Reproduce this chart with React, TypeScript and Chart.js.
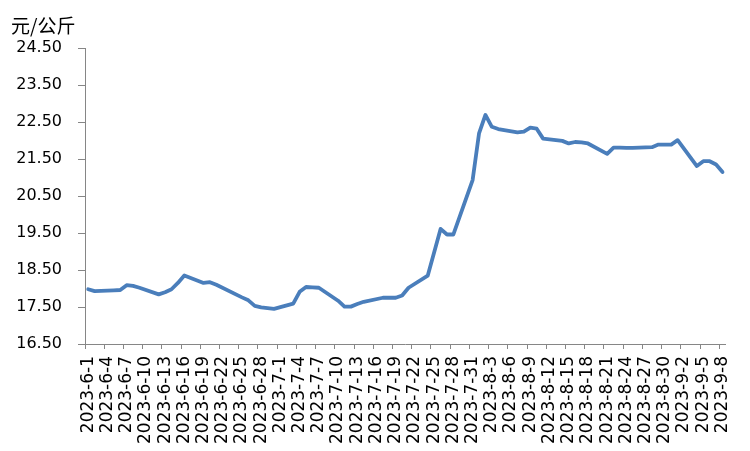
import React, { useEffect, useRef } from "react";
import { Chart, registerables } from "chart.js";

Chart.register(...registerables);

// Categories: every calendar day from 2023-6-1 to 2023-9-8
const monthDays: [number, number, number][] = [
  [6, 1, 30],
  [7, 1, 31],
  [8, 1, 31],
  [9, 1, 8],
];
const dates: string[] = [];
for (const [m, from, to] of monthDays) {
  for (let d = from; d <= to; d++) dates.push(`2023-${m}-${d}`);
}

// Price (元/公斤); null = no quote (weekends / holidays), spanned by the line
const junePrices: (number | null)[] = [
  17.98, 17.93, null, null, 17.95, 17.96, 18.09, 18.07, 18.02, null,
  null, 17.84, 17.90, 17.98, 18.15, 18.35, null, null, 18.15, 18.17,
  18.10, null, null, null, 17.76, 17.68, 17.53, 17.49, 17.47, 17.45,
];
const julyPrices: (number | null)[] = [
  null, null, 17.59, 17.91, 18.04, 18.03, 18.02, null, null, 17.67,
  17.51, 17.51, 17.58, 17.64, null, null, 17.75, 17.75, 17.75, 17.81,
  18.02, null, null, 18.35, 18.98, 19.61, 19.46, 19.46, null, null,
  20.93,
];
const augustPrices: (number | null)[] = [
  22.19, 22.69, 22.37, 22.31, null, null, 22.22, 22.24, 22.35, 22.32,
  22.05, null, null, 21.99, 21.92, 21.96, 21.95, 21.92, null, null,
  21.64, 21.81, 21.81, 21.80, 21.80, null, null, 21.82, 21.89, 21.89,
  21.89,
];
const septemberPrices: (number | null)[] = [
  22.01, null, null, 21.31, 21.44, 21.44, 21.35, 21.15,
];
const prices = [...junePrices, ...julyPrices, ...augustPrices, ...septemberPrices];

const yMin = 16.5;
const yMax = 24.5;
const yStep = 1;
const unitLabel = "元/公斤";

const FONT = "'DejaVu Sans', sans-serif";
const AXIS = "#868686";

export default function App() {
  const ref = useRef<HTMLCanvasElement | null>(null);

  useEffect(() => {
    if (!ref.current) return;
    const unitPlugin = {
      id: "unitLabel",
      afterDraw(chart: any) {
        const ctx = chart.ctx;
        ctx.save();
        ctx.fillStyle = "#000";
        ctx.font = "19px 'Noto Sans CJK SC', sans-serif";
        ctx.textBaseline = "alphabetic";
        ctx.textAlign = "left";
        ctx.fillText(unitLabel, 11, 33);
        ctx.restore();
      },
    };
    const chart = new Chart(ref.current, {
      type: "line",
      data: {
        labels: dates,
        datasets: [
          {
            data: prices,
            borderColor: "#4a7ebb",
            borderWidth: 3.8,
            pointRadius: 0,
            pointHoverRadius: 0,
            tension: 0,
            spanGaps: true,
            borderCapStyle: "round",
            borderJoinStyle: "round",
            fill: false,
          },
        ],
      },
      options: {
        responsive: false,
        animation: false,
        layout: { padding: { top: 48, right: 22, left: 0, bottom: 0 } },
        plugins: {
          legend: { display: false },
          tooltip: { enabled: false },
          title: { display: false },
        },
        scales: {
          x: {
            type: "category",
            offset: true,
            grid: {
              offset: true,
              drawOnChartArea: false,
              drawTicks: true,
              tickLength: 5,
              color: (c: any) => (c.index % 3 === 0 ? AXIS : "rgba(0,0,0,0)"),
            },
            border: { display: true, color: AXIS, width: 1 },
            ticks: {
              autoSkip: false,
              maxRotation: 90,
              minRotation: 90,
              padding: 7,
              color: "#000",
              font: { family: FONT, size: 17 },
              callback: (_v: any, i: number) => (i % 3 === 0 ? dates[i] : ""),
            },
            afterFit: (s: any) => {
              s.height = 107;
            },
          },
          y: {
            min: yMin,
            max: yMax,
            grid: {
              drawOnChartArea: false,
              drawTicks: true,
              tickLength: 7,
              color: AXIS,
            },
            border: { display: true, color: AXIS, width: 1 },
            ticks: {
              stepSize: yStep,
              padding: 16,
              color: "#000",
              font: { family: FONT, size: 16 },
              callback: (v: any) => Number(v).toFixed(2),
            },
            afterFit: (s: any) => {
              s.width = 85;
            },
          },
        },
      },
      plugins: [unitPlugin],
    });
    return () => chart.destroy();
  }, []);

  return (
    <div style={{ position: "absolute", left: 0, top: 0, width: 750, height: 451, background: "#fff" }}>
      <canvas ref={ref} width={750} height={451} style={{ display: "block" }} />
    </div>
  );
}
